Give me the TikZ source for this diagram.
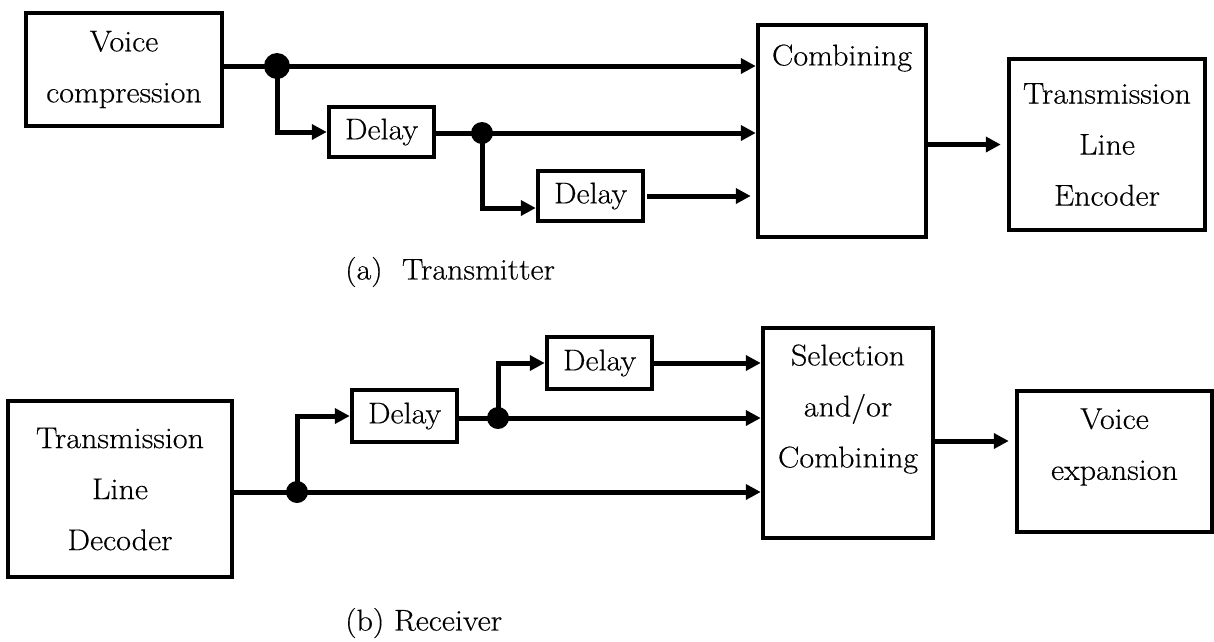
\documentclass[tikz,border=0pt]{standalone}
\usepackage{fontspec}
\setmainfont{Latin Modern Roman}[FakeStretch=1.07, FakeBold=0.4]
\usetikzlibrary{arrows.meta}
\begin{document}
\begin{tikzpicture}[x=1pt,y=-1pt,
  txt/.style={font=\fontsize{30}{51}\selectfont, align=center, inner sep=0pt},
  blk/.style={draw, line width=4.5pt, inner sep=0pt, txt},
  dot/.style={circle, fill, inner sep=0pt, minimum size=#1},
  arr/.style={line width=5pt, -{Triangle[length=15pt,width=15pt]}},
  wire/.style={line width=5pt}
]
\useasboundingbox (0,0) rectangle (1214,641);

% ---------- (a) transmitter ----------
\node[blk, minimum width=196pt, minimum height=113pt] (vc) at (124,69.5) {Voice\\compression};
\node[blk, minimum width=105pt, minimum height=50pt] (d1) at (381.5,132) {Delay};
\node[blk, minimum width=105pt, minimum height=50pt] (d2) at (590.5,196) {Delay};
\node[blk, minimum width=168pt, minimum height=212pt] (comb) at (842,131) {};
\node[txt] (combtxt) at (842,58) {Combining};
\node[blk, minimum width=196pt, minimum height=171pt] (enc) at (1107,144.5) {Transmission\\Line\\Encoder};

\node[dot=26pt] (j1) at (277,66) {};
\node[dot=22pt] (j2) at (482,133) {};

\draw[wire] (vc.east |- j1) -- (j1.center);
\draw[arr] (j1.center) -- (comb.west |- j1);
\draw[arr] (j1.center) |- (d1.west);
\draw[wire] (d1.east |- j2) -- (j2.center);
\draw[arr] (j2.center) -- (comb.west |- j2);
\draw[arr] (j2.center) |- ([yshift=-12pt]d2.west);
\draw[arr, shorten >=5pt, shorten <=2pt] (d2.east) -- (comb.west |- d2.east);
\draw[arr, shorten >=6pt, shorten <=-4pt] (comb.east |- enc.west) -- (enc.west);

\node[txt, anchor=west] (capa) at (345,272) {(a)~~Transmitter};

% ---------- (b) receiver ----------
\node[blk, minimum width=224pt, minimum height=176pt] (dec) at (120,489) {Transmission\\Line\\Decoder};
\node[blk, minimum width=105pt, minimum height=52pt] (d3) at (404.5,416) {Delay};
\node[blk, minimum width=105pt, minimum height=52pt] (d4) at (599.5,363) {Delay};
\node[blk, minimum width=170pt, minimum height=210pt] (sel) at (848,433) {};
\node[txt] (seltxt) at (848,409) {Selection\\and/or\\Combining};
\node[blk, minimum width=195pt, minimum height=141pt] (ve) at (1114.5,461.5) {};
\node[txt] (vetxt) at (1114.5,447) {Voice\\expansion};

\node[dot=22pt] (j3) at (297,492) {};
\node[dot=22pt] (j4) at (498,418) {};

\draw[wire] (dec.east |- j3) -- (j3.center);
\draw[arr] (j3.center) -- (sel.west |- j3);
\draw[arr] (j3.center) |- (d3.west);
\draw[wire] (d3.east |- j4) -- (j4.center);
\draw[arr] (j4.center) -- (sel.west |- j4);
\draw[arr] (j4.center) |- (d4.west);
\draw[arr] (d4.east) -- (sel.west |- d4.east);
\draw[arr, shorten >=6pt, shorten <=-4pt] ([yshift=-8pt]sel.east) -- ([yshift=-8pt]sel.east -| ve.west);

\node[txt, anchor=west] (capb) at (345,623) {(b) Receiver};
\end{tikzpicture}
\end{document}
